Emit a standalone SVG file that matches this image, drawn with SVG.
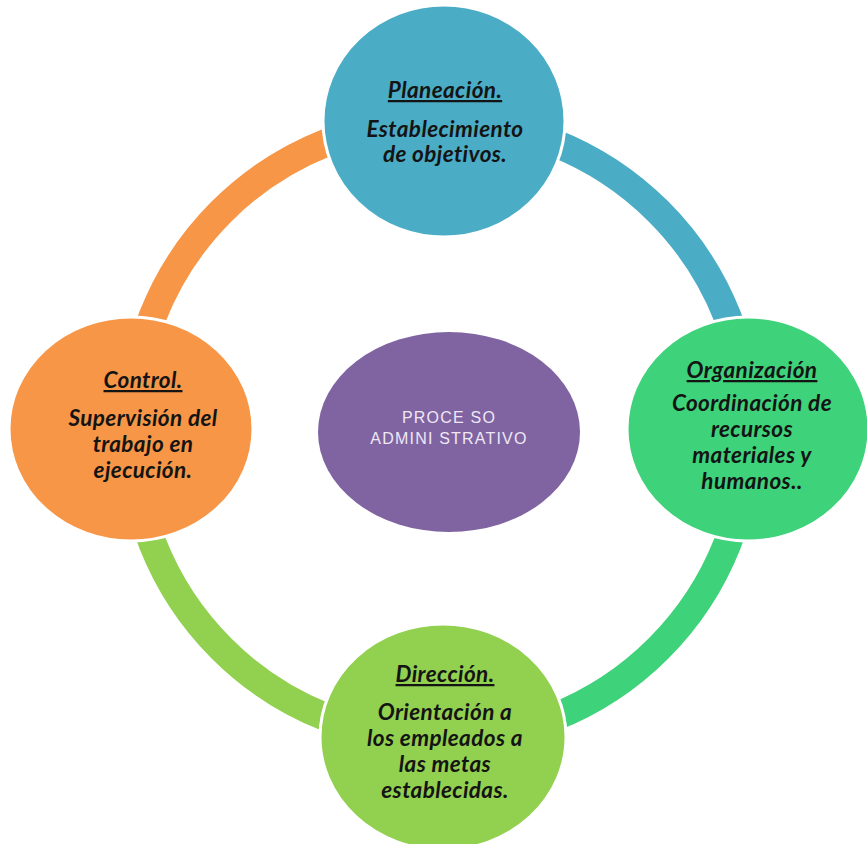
<svg xmlns="http://www.w3.org/2000/svg" width="867" height="844" viewBox="0 0 867 844">
<style>
.ring{fill:none;stroke-width:28;}
.node{stroke:#fff;stroke-width:3;}
.t{font-family:Lato,"Liberation Sans",sans-serif;font-weight:bold;font-style:italic;font-size:22.5px;letter-spacing:0.4px;fill:#141414;text-anchor:middle;}
.h{text-decoration:underline;}
.c{font-family:"Liberation Sans",Arial,sans-serif;font-size:16px;fill:#EEE8F5;text-anchor:middle;letter-spacing:1.2px;}
</style>
<rect width="867" height="844" fill="#fff"/>
<g id="connectors">
<path class="ring" stroke="#4BACC6" d="M440,121 A309,309 0 0 1 749,430"/>
<path class="ring" stroke="#3ED27A" d="M749,430 A309,309 0 0 1 440,739"/>
<path class="ring" stroke="#92D050" d="M440,739 A309,309 0 0 1 131,430"/>
<path class="ring" stroke="#F79646" d="M131,430 A309,309 0 0 1 440,121"/>
</g>
<g id="center">
<ellipse cx="449" cy="432" rx="131" ry="100" fill="#8064A2"/>
<text class="c" x="449" y="423">PROCE SO</text>
<text class="c" x="449" y="444">ADMINI STRATIVO</text>
</g>
<g id="planeacion">
<ellipse class="node" cx="444" cy="121" rx="121" ry="116" fill="#4BACC6"/>
<text class="t h" x="445" y="98">Planeación.</text>
<text class="t" x="445" y="137">Establecimiento</text>
<text class="t" x="445" y="162">de objetivos.</text>
</g>
<g id="organizacion">
<ellipse class="node" cx="748" cy="429" rx="121" ry="112" fill="#3ED27A"/>
<text class="t h" x="752" y="378">Organización</text>
<text class="t" x="752" y="411">Coordinación de</text>
<text class="t" x="752" y="437">recursos</text>
<text class="t" x="752" y="463">materiales y</text>
<text class="t" x="752" y="489">humanos..</text>
</g>
<g id="direccion">
<ellipse class="node" cx="443" cy="737" rx="123" ry="113" fill="#92D050"/>
<text class="t h" x="445" y="682">Dirección.</text>
<text class="t" x="445" y="720">Orientación a</text>
<text class="t" x="445" y="746">los empleados a</text>
<text class="t" x="445" y="772">las metas</text>
<text class="t" x="445" y="798">establecidas.</text>
</g>
<g id="control">
<ellipse class="node" cx="131" cy="429" rx="122" ry="112" fill="#F79646"/>
<text class="t h" x="143" y="388">Control.</text>
<text class="t" x="143" y="426">Supervisión del</text>
<text class="t" x="143" y="452">trabajo en</text>
<text class="t" x="143" y="478">ejecución.</text>
</g>
</svg>
